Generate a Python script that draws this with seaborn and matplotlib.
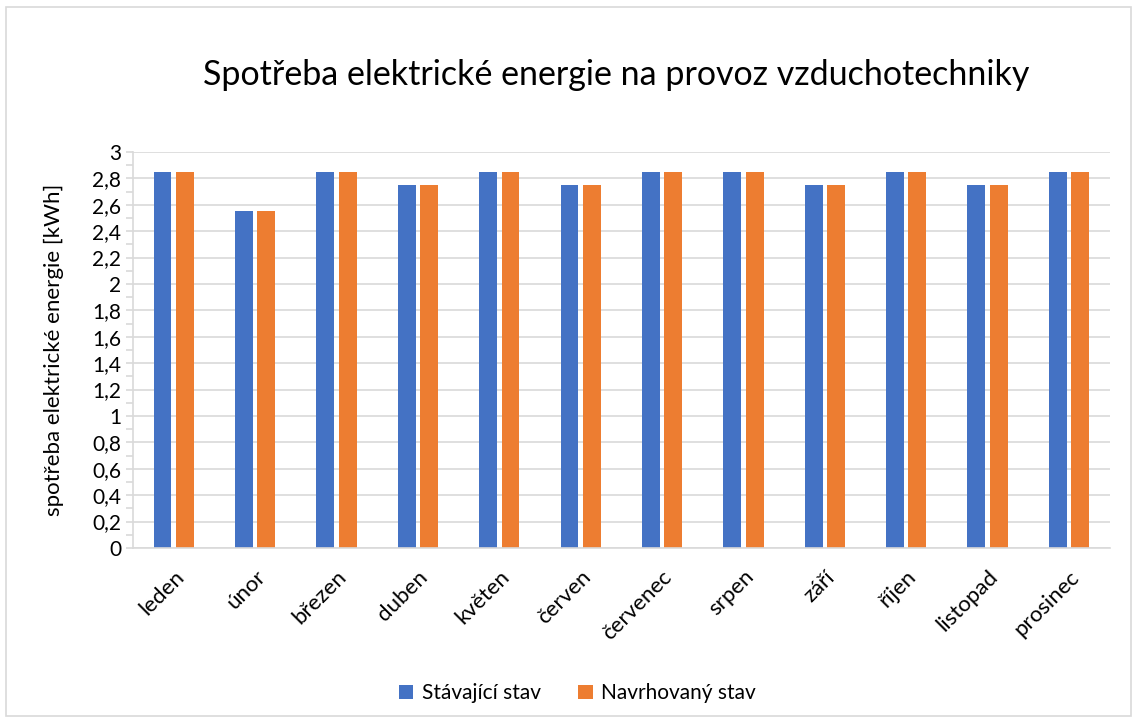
import pandas as pd
import matplotlib.pyplot as plt
import seaborn as sns
from matplotlib.ticker import MultipleLocator, FuncFormatter
from matplotlib.patches import Rectangle

# data
months = ["leden", "únor", "březen", "duben", "květen", "červen",
          "červenec", "srpen", "září", "říjen", "listopad", "prosinec"]
stavajici = [2.85, 2.55, 2.85, 2.75, 2.85, 2.75, 2.85, 2.85, 2.75, 2.85, 2.75, 2.85]
navrhovany = [2.85, 2.55, 2.85, 2.75, 2.85, 2.75, 2.85, 2.85, 2.75, 2.85, 2.75, 2.85]
series = ["Stávající stav", "Navrhovaný stav"]

df = pd.DataFrame({
    "mesic": months * 2,
    "stav": [series[0]] * len(months) + [series[1]] * len(months),
    "hodnota": stavajici + navrhovany,
})

sns.set_style("white")
plt.rcParams["font.family"] = ["Lato", "DejaVu Sans"]
plt.rcParams["text.color"] = "black"

fig = plt.figure(figsize=(11.37, 7.2), dpi=100)
ax = fig.add_axes([0.117, 0.239, 0.859, 0.55])

sns.barplot(data=df, x="mesic", y="hodnota", hue="stav",
            palette=["#4472C4", "#ED7D31"], saturation=1, width=0.55, gap=0.2,
            linewidth=0, ax=ax)

ax.set_ylim(0, 3)
ax.set_xlim(-0.5, len(months) - 0.5)
ax.yaxis.set_major_locator(MultipleLocator(0.2))
ax.yaxis.set_minor_locator(MultipleLocator(0.1))
ax.yaxis.set_major_formatter(FuncFormatter(lambda v, p: f"{v:.1f}".rstrip("0").rstrip(".").replace(".", ",")))
ax.grid(axis="y", which="major", color="#D9D9D9", linewidth=1.2)
ax.set_axisbelow(True)
for s in ["top", "right"]:
    ax.spines[s].set_visible(False)
for s in ["left", "bottom"]:
    ax.spines[s].set_color("#D9D9D9")
    ax.spines[s].set_linewidth(1.2)
ax.tick_params(axis="y", which="both", left=True, length=5, color="#D9D9D9",
               width=1.2, labelsize=15, colors="#D9D9D9", labelcolor="#000000")
ax.tick_params(axis="x", bottom=False, labelsize=16, pad=10, labelcolor="#000000")
plt.setp(ax.get_xticklabels(), rotation=45, ha="right", rotation_mode="anchor")

ax.set_xlabel("")
ax.set_ylabel("spotřeba elektrické energie [kWh]", fontsize=16, color="black", labelpad=20)
fig.suptitle("Spotřeba elektrické energie na provoz vzduchotechniky",
             fontsize=24.5, x=0.542, y=0.918, color="black")

ax.legend(loc="upper center", bbox_to_anchor=(0.455, -0.295), ncol=2,
          frameon=False, fontsize=15, handlelength=0.7, handleheight=0.7,
          columnspacing=1.8, handletextpad=0.4)

fig.patches.append(Rectangle((0.005, 0.005), 0.99, 0.985, transform=fig.transFigure,
                             fill=False, edgecolor="#D9D9D9", linewidth=1.2))

fig.savefig("out.png", dpi=100)
